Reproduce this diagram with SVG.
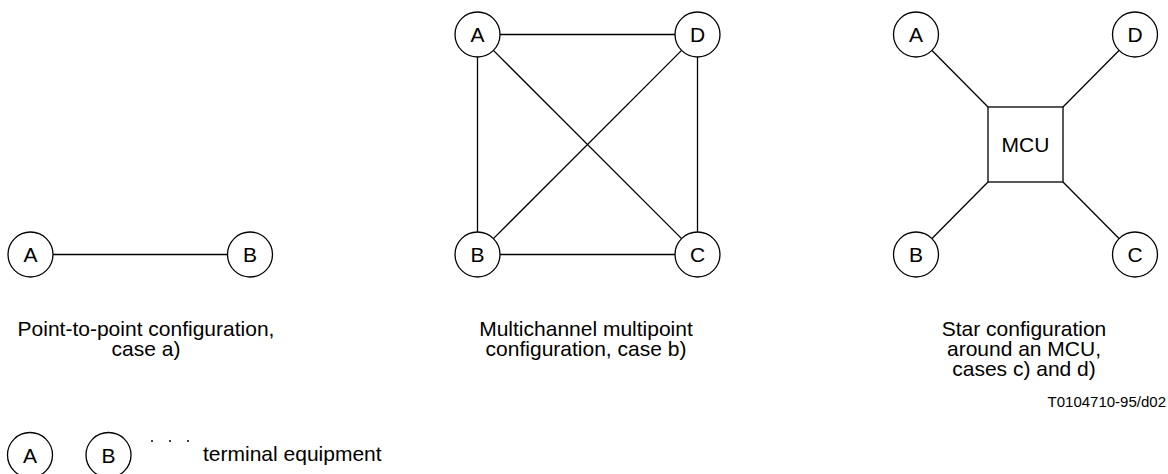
<svg xmlns="http://www.w3.org/2000/svg" width="1168" height="474" viewBox="0 0 1168 474">
<style>
.n{fill:#fff;stroke:#000;stroke-width:1.3}
.l{stroke:#000;stroke-width:1.3;fill:none}
text{font-family:"Liberation Sans",Arial,sans-serif;font-size:21px;fill:#000}
.c{text-anchor:middle;dominant-baseline:central}
.t{text-anchor:middle}
.dot{fill:#000}
</style>
<rect width="1168" height="474" fill="#fff"/>
<g id="connectors">
<line class="l" x1="53" y1="254.5" x2="227.5" y2="254.5"/>
<line class="l" x1="500" y1="34.5" x2="675" y2="34.5"/>
<line class="l" x1="477.5" y1="57" x2="477.5" y2="232"/>
<line class="l" x1="697.5" y1="57" x2="697.5" y2="232"/>
<line class="l" x1="500" y1="254.5" x2="675" y2="254.5"/>
<line class="l" x1="493.4" y1="50.4" x2="681.6" y2="238.6"/>
<line class="l" x1="681.6" y1="50.4" x2="493.4" y2="238.6"/>
<line class="l" x1="932" y1="50.5" x2="988" y2="107"/>
<line class="l" x1="1119" y1="50.5" x2="1063" y2="107"/>
<line class="l" x1="932" y1="238.5" x2="988" y2="182"/>
<line class="l" x1="1119" y1="238.5" x2="1063" y2="182"/>
</g>
<g id="p2p-A"><circle class="n" cx="30.5" cy="254.5" r="22.5"/><text class="c" x="30.5" y="254.5">A</text></g>
<g id="p2p-B"><circle class="n" cx="250" cy="254.5" r="22.5"/><text class="c" x="250" y="254.5">B</text></g>
<g id="mc-A"><circle class="n" cx="477.5" cy="34.5" r="22.5"/><text class="c" x="477.5" y="34.5">A</text></g>
<g id="mc-D"><circle class="n" cx="697.5" cy="34.5" r="22.5"/><text class="c" x="697.5" y="34.5">D</text></g>
<g id="mc-B"><circle class="n" cx="477.5" cy="254.5" r="22.5"/><text class="c" x="477.5" y="254.5">B</text></g>
<g id="mc-C"><circle class="n" cx="697.5" cy="254.5" r="22.5"/><text class="c" x="697.5" y="254.5">C</text></g>
<g id="st-A"><circle class="n" cx="916" cy="34.5" r="22.5"/><text class="c" x="916" y="34.5">A</text></g>
<g id="st-D"><circle class="n" cx="1135" cy="34.5" r="22.5"/><text class="c" x="1135" y="34.5">D</text></g>
<g id="st-B"><circle class="n" cx="916" cy="254.5" r="22.5"/><text class="c" x="916" y="254.5">B</text></g>
<g id="st-C"><circle class="n" cx="1135" cy="254.5" r="22.5"/><text class="c" x="1135" y="254.5">C</text></g>
<g id="mcu"><rect class="n" x="988" y="107" width="75" height="75"/><text class="c" x="1025.5" y="144.5">MCU</text></g>
<g id="labels">
<text class="t" x="146" y="336">Point-to-point configuration,</text>
<text class="t" x="146" y="356">case a)</text>
<text class="t" x="586" y="336">Multichannel multipoint</text>
<text class="t" x="586" y="356">configuration, case b)</text>
<text class="t" x="1024" y="336">Star configuration</text>
<text class="t" x="1024" y="356">around an MCU,</text>
<text class="t" x="1024" y="376">cases c) and d)</text>
<text x="1166" y="407" text-anchor="end" style="font-size:15px">T0104710-95/d02</text>
</g>
<g id="legend-A"><circle class="n" cx="30" cy="455" r="22.5"/><text class="c" x="30" y="455">A</text></g>
<g id="legend-B"><circle class="n" cx="108.5" cy="455" r="22.5"/><text class="c" x="108.5" y="455">B</text></g>
<g id="legend">
<circle class="dot" cx="152" cy="441" r="1"/>
<circle class="dot" cx="170" cy="441" r="1"/>
<circle class="dot" cx="188" cy="441" r="1"/>
<text x="203" y="461">terminal equipment</text>
</g>
</svg>
